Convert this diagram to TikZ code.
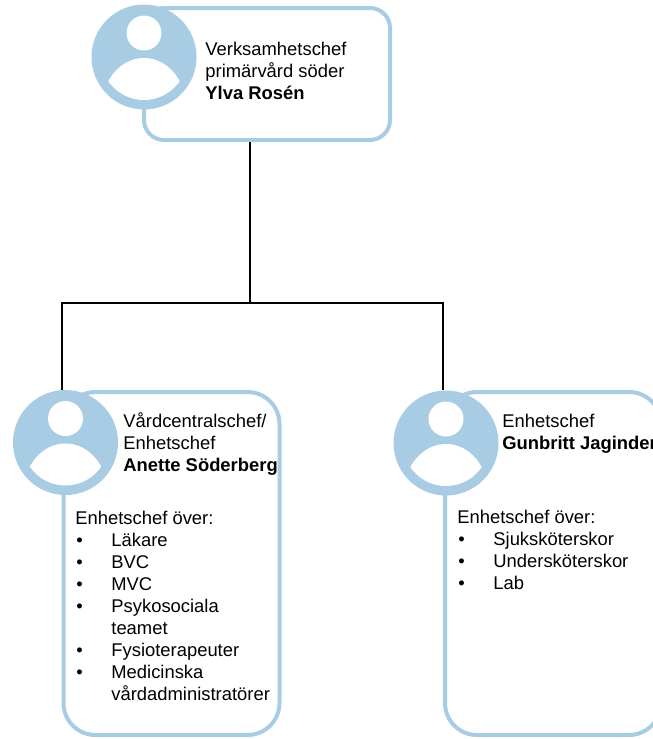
\documentclass[tikz,border=0pt]{standalone}
\usepackage{fontspec}
\setmainfont{Liberation Sans}
\usepackage{tikz}
\usetikzlibrary{positioning}
\usetikzlibrary{calc}

\definecolor{avablue}{RGB}{168,204,228}

\tikzset{
  box/.style={draw=avablue,line width=2pt,fill=white,rounded corners=16pt,
    minimum width=108pt,minimum height=171.5pt,inner sep=0pt},
  ava/.style={circle,fill=avablue,minimum size=52.5pt,inner sep=0pt},
  txt/.style={anchor=base west,inner sep=0pt,align=left,
    font=\fontsize{9.2}{11}\selectfont},
  conn/.style={draw=black,line width=1pt}
}

% avatar: position, name
\newcommand{\avatar}[2]{
  \node[ava] (#2) at (#1) {};
  \fill[white] (#2.center) ++(0,-24) circle (8.75pt);
  \begin{scope}
    \clip (#2.center) circle (21.5pt);
    \fill[white] (#2.center) ++(0,50) ellipse (21pt and 24.5pt);
  \end{scope}
}
\newcommand{\itm}{\makebox[18pt][l]{\hspace{0.5pt}•}}

\begin{document}
\begin{tikzpicture}[x=.5pt,y=-.5pt]
  \useasboundingbox (0,0) rectangle (653,739);

  % boxes
  \node[box,minimum width=123pt,minimum height=66pt,rounded corners=10pt] (top) at (267,74) {};
  \node[box] (left) at (171.5,563.5) {};
  \node[box] (right) at (553,563.5) {};

  % connectors
  \coordinate (fork) at (250,303);
  \draw[conn] (top.south -| fork) -- (fork);
  \draw[conn] (left.north west) -- (left.north west |- fork) -- (right.north west |- fork) -- (right.north west);

  % avatars
  \avatar{144,57}{avatop}
  \avatar{65.5,442.5}{avaleft}
  \avatar{446,443}{avaright}

  % top (base = last line)
  \node[txt] (toptxt) at (205,99) {Verksamhetschef\\primärvård söder\\\textbf{Ylva Rosén}};

  % left
  \node[txt] (lefthead) at (123,471) {Vårdcentralschef/\\Enhetschef\\\textbf{Anette Söderberg}};
  \node[txt] (leftlist) at (75,700) {Enhetschef över:\\
    \itm Läkare\\
    \itm BVC\\
    \itm MVC\\
    \itm Psykosociala\\
    \hspace*{18pt}teamet\\
    \itm Fysioterapeuter\\
    \itm Medicinska\\
    \hspace*{18pt}vårdadministratörer};

  % right
  \node[txt] (righthead) at (502,449) {Enhetschef\\\textbf{Gunbritt Jaginder}};
  \node[txt] (rightlist) at (457,589) {Enhetschef över:\\
    \itm Sjuksköterskor\\
    \itm Undersköterskor\\
    \itm Lab};
\end{tikzpicture}
\end{document}
